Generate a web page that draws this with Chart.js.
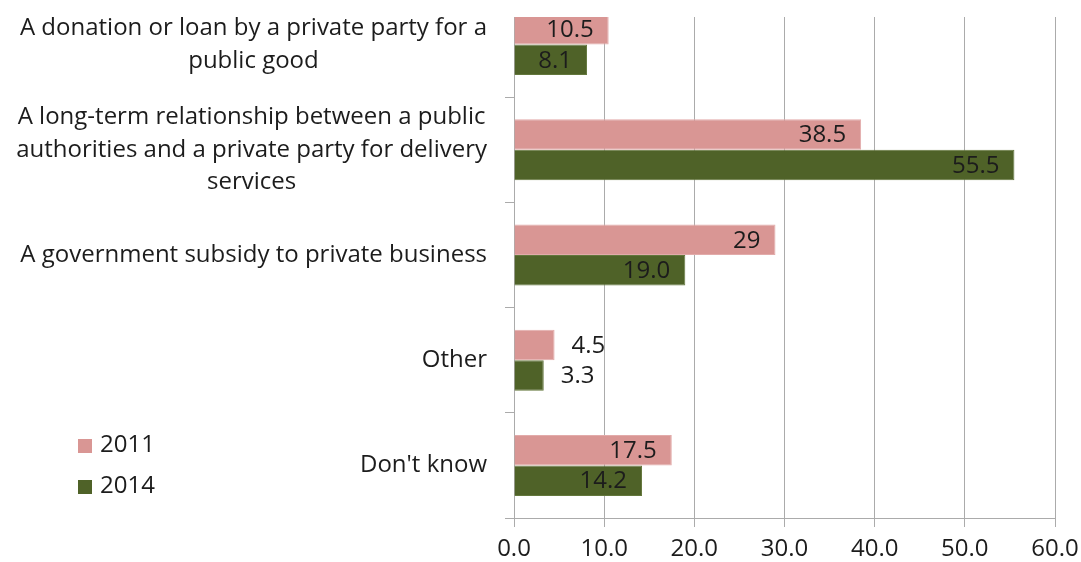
<!DOCTYPE html>
<html>
<head>
<meta charset="utf-8">
<title>Understanding of public-private partnerships, 2011 vs 2014</title>
<script src="https://cdn.jsdelivr.net/npm/chart.js@4.4.1/dist/chart.umd.min.js"></script>
<style>
  html, body { margin: 0; padding: 0; background: #ffffff; overflow: hidden; }
  #wrap { position: absolute; left: 0; top: -8px; width: 1081px; height: 570px; }
</style>
</head>
<body>
<div id="wrap"><canvas id="chart"></canvas></div>
<script>
// Answer options (multi-line category labels)
const categories = [
  ["A donation or loan by a private party for a", "public good"],
  ["A long-term relationship between a public", "authorities and a private party for delivery", "services"],
  ["A government subsidy to private business"],
  ["Other"],
  ["Don't know"]
];

// Share of respondents (%)
const values2011 = [10.5, 38.5, 29, 4.5, 17.5];
const values2014 = [8.1, 55.5, 19.0, 3.3, 14.2];

const seriesNames = ["2011", "2014"];
const seriesColors = ["#D99694", "#4F6228"];
const seriesEdges = ["#E2ABAA", "#63773C"];

// Value-axis range
const xMin = 0;
const xMax = 60;
const xStep = 10;

// Label formatting per series
const labelFormat = [v => String(v), v => v.toFixed(1)];

const FONT_FAMILY = '"Open Sans", "Noto Sans", sans-serif';
const FONT_SIZE = 24;
const TEXT_COLOR = "#1c1c1c";
const GRID_COLOR = "#ABABAB";

// The top strip of the plot is hidden so the first category is partly cut off
const hiddenTop = 25;

const coverTop = {
  id: "coverTop",
  afterDatasetsDraw(chart) {
    const { ctx, chartArea } = chart;
    ctx.save();
    ctx.fillStyle = "#ffffff";
    ctx.fillRect(chartArea.left - 1, chartArea.top - 1, chartArea.right - chartArea.left + 2, hiddenTop + 1);
    ctx.restore();
  }
};

const categoryLabels = {
  id: "categoryLabels",
  afterDraw(chart) {
    const { ctx } = chart;
    const yScale = chart.scales.y;
    const rightEdge = yScale.right - 27;
    const lineHeight = 32.5;
    ctx.save();
    ctx.font = FONT_SIZE + "px " + FONT_FAMILY;
    ctx.fillStyle = TEXT_COLOR;
    ctx.textAlign = "center";
    ctx.textBaseline = "middle";
    categories.forEach((lines, i) => {
      const cy = yScale.getPixelForValue(i);
      const maxW = Math.max(...lines.map(l => ctx.measureText(l).width));
      const cx = rightEdge - maxW / 2;
      const y0 = cy - (lines.length - 1) * lineHeight / 2;
      lines.forEach((l, k) => ctx.fillText(l, cx, y0 + k * lineHeight));
    });
    ctx.restore();
  }
};

const valueLabels = {
  id: "valueLabels",
  afterDatasetsDraw(chart) {
    const { ctx } = chart;
    ctx.save();
    ctx.font = FONT_SIZE + "px " + FONT_FAMILY;
    ctx.fillStyle = TEXT_COLOR;
    ctx.textBaseline = "middle";
    chart.data.datasets.forEach((ds, di) => {
      const meta = chart.getDatasetMeta(di);
      meta.data.forEach((bar, i) => {
        const text = labelFormat[di](ds.data[i]);
        const w = ctx.measureText(text).width;
        const barLen = bar.x - bar.base;
        if (w + 30 < barLen) {
          ctx.textAlign = "right";
          ctx.fillText(text, bar.x - 15, bar.y + 1);
        } else {
          ctx.textAlign = "left";
          ctx.fillText(text, bar.x + 17, bar.y + 1);
        }
      });
    });
    ctx.restore();
  }
};

const legendBox = {
  id: "legendBox",
  afterDraw(chart) {
    const { ctx } = chart;
    const left = 78, top = 454, gap = 41, box = 14;
    ctx.save();
    ctx.font = FONT_SIZE + "px " + FONT_FAMILY;
    ctx.textBaseline = "middle";
    ctx.textAlign = "left";
    seriesNames.forEach((name, i) => {
      const cy = top + i * gap;
      ctx.fillStyle = seriesColors[i];
      ctx.fillRect(left, cy - box / 2, box, box);
      ctx.fillStyle = TEXT_COLOR;
      ctx.fillText(name, left + box + 8, cy - 1);
    });
    ctx.restore();
  }
};

new Chart(document.getElementById("chart"), {
  type: "bar",
  data: {
    labels: categories,
    datasets: [
      {
        label: seriesNames[0],
        data: values2011,
        backgroundColor: seriesColors[0],
        borderColor: seriesEdges[0],
        borderWidth: 1,
        categoryPercentage: 0.58,
        barPercentage: 1.0
      },
      {
        label: seriesNames[1],
        data: values2014,
        backgroundColor: seriesColors[1],
        borderColor: seriesEdges[1],
        borderWidth: 1,
        categoryPercentage: 0.58,
        barPercentage: 1.0
      }
    ]
  },
  options: {
    indexAxis: "y",
    responsive: true,
    maintainAspectRatio: false,
    animation: false,
    devicePixelRatio: 1,
    layout: { padding: { left: 0, right: 26, top: 0, bottom: 0 } },
    plugins: {
      legend: { display: false },
      tooltip: { enabled: false }
    },
    scales: {
      x: {
        type: "linear",
        min: xMin,
        max: xMax,
        afterFit(scale) {
          scale.height = 44;
          scale.paddingLeft = 0;
          scale.paddingRight = 0;
        },
        ticks: {
          stepSize: xStep,
          padding: 8,
          color: TEXT_COLOR,
          font: { family: FONT_FAMILY, size: FONT_SIZE },
          callback: v => Number(v).toFixed(1),
          maxRotation: 0
        },
        grid: { color: GRID_COLOR, lineWidth: 1, tickLength: 9, drawTicks: true },
        border: { color: GRID_COLOR, width: 1 }
      },
      y: {
        type: "category",
        offset: true,
        afterFit(scale) { scale.width = 514; },
        ticks: { display: false },
        grid: { offset: true, drawOnChartArea: false, drawTicks: true, tickLength: 9, color: GRID_COLOR },
        border: { color: GRID_COLOR, width: 1 }
      }
    }
  },
  plugins: [coverTop, valueLabels, categoryLabels, legendBox]
});
</script>
</body>
</html>
